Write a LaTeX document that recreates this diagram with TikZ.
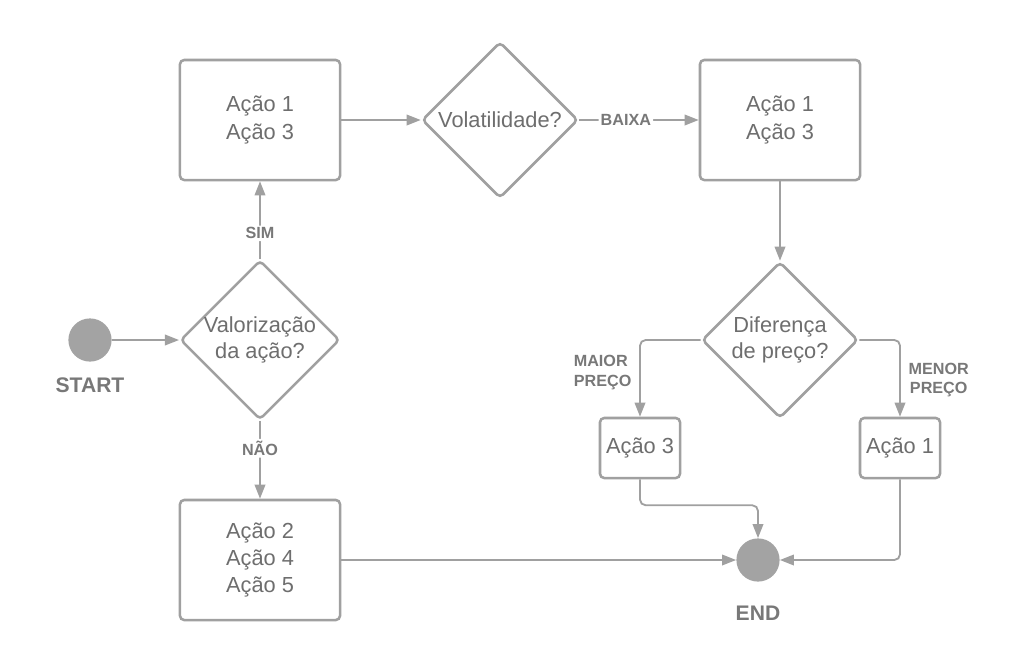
\documentclass[tikz,border=0pt]{standalone}
\usepackage{fontspec}
\setmainfont{Liberation Sans}
\usepackage{xcolor}
\usetikzlibrary{shapes.geometric, arrows.meta, positioning}

\definecolor{linegray}{HTML}{A0A0A0}
\definecolor{textgray}{HTML}{6E6E6E}
\definecolor{lblgray}{HTML}{787878}
\definecolor{dotgray}{HTML}{A3A3A3}

\begin{document}
\begin{tikzpicture}[x=0.025cm, y=-0.025cm,
    actbox/.style={draw=linegray, line width=1.8pt, rounded corners=3pt, text=textgray,
        font=\fontsize{15.5}{19.5}\selectfont, align=center, inner sep=0pt},
    decision/.style={diamond, aspect=1, draw=linegray, line width=1.8pt, rounded corners=3pt,
        text=textgray, font=\fontsize{15.5}{19}\selectfont, align=center, inner sep=0pt,
        minimum width=3.9cm, minimum height=3.9cm},
    terminal/.style={circle, fill=dotgray, minimum size=1.08cm, inner sep=0pt},
    termlbl/.style={text=lblgray, font=\bfseries\fontsize{15}{18}\selectfont},
    lbl/.style={text=lblgray, font=\bfseries\fontsize{11.5}{14}\selectfont, fill=white,
        inner sep=1.5pt, align=left},
    flow/.style={draw=linegray, line width=1.3pt, rounded corners=4pt,
        -{Triangle[length=10pt, width=7.5pt]}},
]
    \fill[white] (0,0) rectangle (1014,660);
    \useasboundingbox (0,0) rectangle (1014,660);

    \node[terminal] (start) at (90, 340) {};
    \node[termlbl] (startlbl) at (90, 385) {START};
    \node[decision] (val) at (260, 340) {Valorização\\da ação?};
    \node[actbox, minimum width=4cm, minimum height=3cm] (box1) at (260, 120) {Ação 1\\Ação 3};
    \node[actbox, minimum width=4cm, minimum height=3cm] (box2) at (260, 560) {Ação 2\\Ação 4\\Ação 5};
    \node[decision] (vol) at (500, 120) {Volatilidade?};
    \node[actbox, minimum width=4cm, minimum height=3cm] (box3) at (780, 120) {Ação 1\\Ação 3};
    \node[decision] (dif) at (780, 340) {Diferença\\de preço?};
    \node[actbox, minimum width=2cm, minimum height=1.5cm] (a3) at (640, 448) {Ação 3};
    \node[actbox, minimum width=2cm, minimum height=1.5cm] (a1) at (900, 448) {Ação 1};
    \node[terminal] (fin) at (758, 560) {};
    \node[termlbl] (finlbl) at (758, 613) {END};

    \draw[flow] (start) -- (val);
    \draw[flow] (val) -- node[lbl, pos=0.33] {SIM} (box1);
    \draw[flow] (val) -- node[lbl, pos=0.35] {NÃO} (box2);
    \draw[flow] (box1) -- (vol);
    \draw[flow] (vol) -- node[lbl, pos=0.39] {BAIXA} (box3);
    \draw[flow] (box3) -- (dif);
    \draw[flow] (dif.west) -| node[lbl, pos=0.71, left=4pt] {MAIOR\\PREÇO} (a3);
    \draw[flow] (dif.east) -| node[lbl, pos=0.76, right=4pt, align=center] {MENOR\\PREÇO} (a1);
    \draw[flow] (a3.south) -- ++(0, 26) -| (fin);
    \draw[flow] (a1) |- (fin);
    \draw[flow] (box2) -- (fin);
\end{tikzpicture}
\end{document}
